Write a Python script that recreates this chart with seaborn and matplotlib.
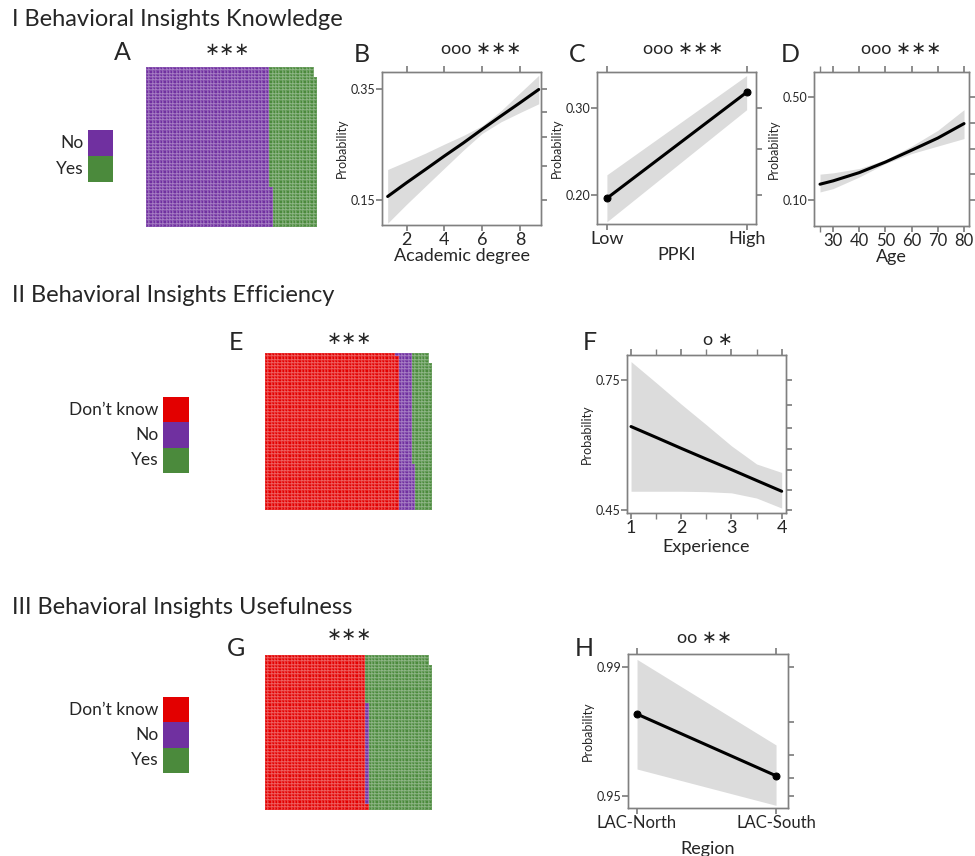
import numpy as np
import pandas as pd
import matplotlib
matplotlib.use('Agg')
import matplotlib.pyplot as plt
import seaborn as sns
from matplotlib.colors import ListedColormap
from matplotlib.ticker import NullLocator, FixedLocator

# colours of the answer categories
PURPLE = '#7030A0'
GREEN = '#4B8A3C'
RED = '#E30000'
BAND = '#DCDCDC'
EDGE = '#808080'

# waffle counts (respondents per answer)
knowledge_labels = ['No', 'Yes']
knowledge_counts = [1740, 657]
efficiency_labels = ['Don\u2019t know', 'No', 'Yes']
efficiency_counts = [1919, 207, 271]
usefulness_labels = ['Don\u2019t know', 'No', 'Yes']
usefulness_counts = [1442, 31, 924]
WAFFLE_ROWS = 48

# B: academic degree
degree_x = [1, 2, 3, 4, 5, 6, 7, 8, 9]
degree_fit = [0.155, 0.174, 0.194, 0.216, 0.239, 0.265, 0.292, 0.320, 0.350]
degree_lo = [0.123, 0.145, 0.169, 0.196, 0.226, 0.257, 0.280, 0.299, 0.318]
degree_hi = [0.194, 0.207, 0.221, 0.237, 0.253, 0.272, 0.303, 0.342, 0.383]

# C: PPKI
ppki_levels = ['Low', 'High']
ppki_fit = [0.197, 0.321]
ppki_lo = [0.175, 0.298]
ppki_hi = [0.221, 0.344]

# D: age
age_x = [25, 30, 40, 50, 60, 70, 80]
age_fit = [0.162, 0.175, 0.207, 0.248, 0.294, 0.341, 0.397]
age_lo = [0.132, 0.145, 0.190, 0.242, 0.281, 0.310, 0.339]
age_hi = [0.201, 0.206, 0.223, 0.257, 0.310, 0.371, 0.451]

# F: experience
exp_x = [1, 1.5, 2, 2.5, 3, 3.5, 4]
exp_fit = [0.653, 0.628, 0.602, 0.576, 0.550, 0.523, 0.496]
exp_lo = [0.496, 0.496, 0.496, 0.495, 0.492, 0.479, 0.454]
exp_hi = [0.783, 0.745, 0.702, 0.657, 0.608, 0.564, 0.543]

# H: region
region_levels = ['LAC-North', 'LAC-South']
region_fit = [0.9819, 0.9611]
region_lo = [0.9642, 0.9443]
region_hi = [0.9909, 0.9734]

sns.set_theme(style='ticks')
plt.rcParams['font.family'] = ['Lato', 'DejaVu Sans']

W, H = 975, 856
fig = plt.figure(figsize=(W / 100, H / 100), dpi=100)


def box(l, t, r, b):
    return [l / W, 1 - b / H, (r - l) / W, (b - t) / H]


def ftext(x, y, s, **kw):
    kw.setdefault('ha', 'center')
    kw.setdefault('va', 'center')
    fig.text(x / W, 1 - y / H, s, **kw)


def waffle(rect, counts, colors):
    total = sum(counts)
    ncols = int(np.ceil(total / WAFFLE_ROWS))
    grid = np.full((WAFFLE_ROWS, ncols), np.nan)
    codes = np.repeat(np.arange(len(counts)), counts)
    idx = np.arange(total)
    grid[WAFFLE_ROWS - 1 - idx % WAFFLE_ROWS, idx // WAFFLE_ROWS] = codes
    ax = fig.add_axes(box(*rect))
    sns.heatmap(grid, ax=ax, cmap=ListedColormap(colors), vmin=-0.5,
                vmax=len(colors) - 0.5, cbar=False, xticklabels=False,
                yticklabels=False, linewidths=0.15, linecolor=(1, 1, 1, 0.15))
    return ax


def legend_box(rect, labels, colors):
    ax = fig.add_axes(box(*rect))
    codes = np.arange(len(labels)).reshape(-1, 1)
    sns.heatmap(codes, ax=ax, cmap=ListedColormap(colors), vmin=-0.5,
                vmax=len(colors) - 0.5, cbar=False, xticklabels=False,
                yticklabels=labels, linewidths=0)
    ax.tick_params(axis='y', length=0, labelsize=12.5, pad=3, rotation=0)
    return ax


def effect_panel(rect, x, fit, lo, hi, xlim, ylim, yscale, ylab_ticks,
                 all_yticks, xticks, xticklabels, xlabel, markers=False,
                 minor_x=None, xsize=13, xpad=0):
    ax = fig.add_axes(box(*rect))
    ax.fill_between(x, lo, hi, color=BAND, lw=0)
    df = pd.DataFrame({'x': x, 'fit': fit})
    sns.lineplot(data=df, x='x', y='fit', ax=ax, color='black', lw=2.2,
                 marker='o' if markers else None, markersize=5,
                 markeredgecolor='black')
    ax.set_yscale(yscale)
    ax.set_xlim(*xlim)
    ax.set_ylim(*ylim)
    ax.set_yticks(ylab_ticks)
    ax.set_yticklabels([f'{v:.2f}' for v in ylab_ticks])
    ax.yaxis.set_minor_locator(NullLocator())
    ax.set_xticks(xticks)
    ax.set_xticklabels(xticklabels)
    if minor_x is not None:
        ax.xaxis.set_minor_locator(FixedLocator(minor_x))
    else:
        ax.xaxis.set_minor_locator(NullLocator())
    ax.set_xlabel(xlabel, fontsize=13, labelpad=xpad)
    ax.set_ylabel('Probability', fontsize=9, labelpad=2)
    ax.tick_params(axis='x', which='both', direction='out', top=True,
                   bottom=True, length=4, color=EDGE, labelsize=xsize, pad=1)
    ax.tick_params(axis='y', which='both', direction='out', left=True,
                   right=False, length=4, color=EDGE, labelsize=9, pad=1)
    for sp in ax.spines.values():
        sp.set_color(EDGE)
        sp.set_linewidth(1)
    ax2 = ax.twinx()
    ax2.set_yscale(yscale)
    ax2.set_ylim(*ylim)
    ax2.set_yticks(all_yticks)
    ax2.set_yticklabels([])
    ax2.yaxis.set_minor_locator(NullLocator())
    ax2.tick_params(axis='y', direction='out', right=True, length=4, color=EDGE)
    for sp in ax2.spines.values():
        sp.set_color(EDGE)
        sp.set_linewidth(1)
    return ax


# section titles
ftext(12, 19, 'I Behavioral Insights Knowledge', ha='left', fontsize=17)
ftext(12, 295, 'II Behavioral Insights Efficiency', ha='left', fontsize=17)
ftext(12, 608, 'III Behavioral Insights Usefulness', ha='left', fontsize=17)

# waffles and their legends
waffle((146, 67, 317, 227), knowledge_counts, [PURPLE, GREEN])
legend_box((88, 130, 113, 182), knowledge_labels, [PURPLE, GREEN])
waffle((265, 353, 432, 510), efficiency_counts, [RED, PURPLE, GREEN])
legend_box((163, 397, 189, 473), efficiency_labels, [RED, PURPLE, GREEN])
waffle((265, 655, 432, 810), usefulness_counts, [RED, PURPLE, GREEN])
legend_box((163, 697, 189, 773), usefulness_labels, [RED, PURPLE, GREEN])

# effect plots
effect_panel((382, 72, 541, 225), degree_x, degree_fit, degree_lo, degree_hi,
             (0.7, 9.12), (0.121, 0.391), 'logit', [0.15, 0.35],
             [0.15, 0.20, 0.25, 0.30, 0.35], [2, 4, 6, 8],
             ['2', '4', '6', '8'], 'Academic degree')
effect_panel((597, 72, 756, 224), [0, 1], ppki_fit, ppki_lo, ppki_hi,
             (-0.071, 1.067), (0.173, 0.349), 'logit', [0.20, 0.30],
             [0.20, 0.25, 0.30], [0, 1], ppki_levels, 'PPKI', markers=True)
effect_panel((814, 72, 969, 226), age_x, age_fit, age_lo, age_hi,
             (22.7, 81.9), (0.0, 0.597), 'linear', [0.10, 0.50],
             [0.1, 0.2, 0.3, 0.4, 0.5], [30, 40, 50, 60, 70, 80],
             ['30', '40', '50', '60', '70', '80'], 'Age', minor_x=[25],
             xsize=12)
effect_panel((627, 355, 786, 513), exp_x, exp_fit, exp_lo, exp_hi,
             (0.92, 4.086), (0.4418, 0.794), 'logit', [0.45, 0.75],
             [0.45, 0.50, 0.55, 0.60, 0.65, 0.70, 0.75], [1, 2, 3, 4],
             ['1', '2', '3', '4'], 'Experience', minor_x=[1.5, 2.5, 3.5],
             xpad=2)
effect_panel((628, 654, 788, 808), [0, 1], region_fit, region_lo, region_hi,
             (-0.065, 1.086), (0.9425, 0.9915), 'logit', [0.95, 0.99],
             [0.95, 0.96, 0.97, 0.98, 0.99], [0, 1], region_levels, 'Region',
             markers=True, xsize=12, xpad=7)

# panel letters
for letter, x, y in [('A', 122, 53), ('B', 362, 54), ('C', 577, 54),
                     ('D', 790, 54), ('E', 236, 342), ('F', 590, 342),
                     ('G', 236, 648), ('H', 584, 648)]:
    ftext(x, y, letter, fontsize=18)

# significance marks
for s, x, y in [('\u2217\u2217\u2217', 227, 50), ('ooo \u2217\u2217\u2217', 481, 49),
                ('ooo \u2217\u2217\u2217', 683, 49), ('ooo \u2217\u2217\u2217', 901, 49),
                ('\u2217\u2217\u2217', 349, 339), ('o \u2217', 718, 340),
                ('\u2217\u2217\u2217', 349, 635), ('oo \u2217\u2217', 705, 638)]:
    ftext(x, y, s, fontsize=13, family=['Lato', 'DejaVu Sans'])

fig.savefig('out.png', dpi=100)
